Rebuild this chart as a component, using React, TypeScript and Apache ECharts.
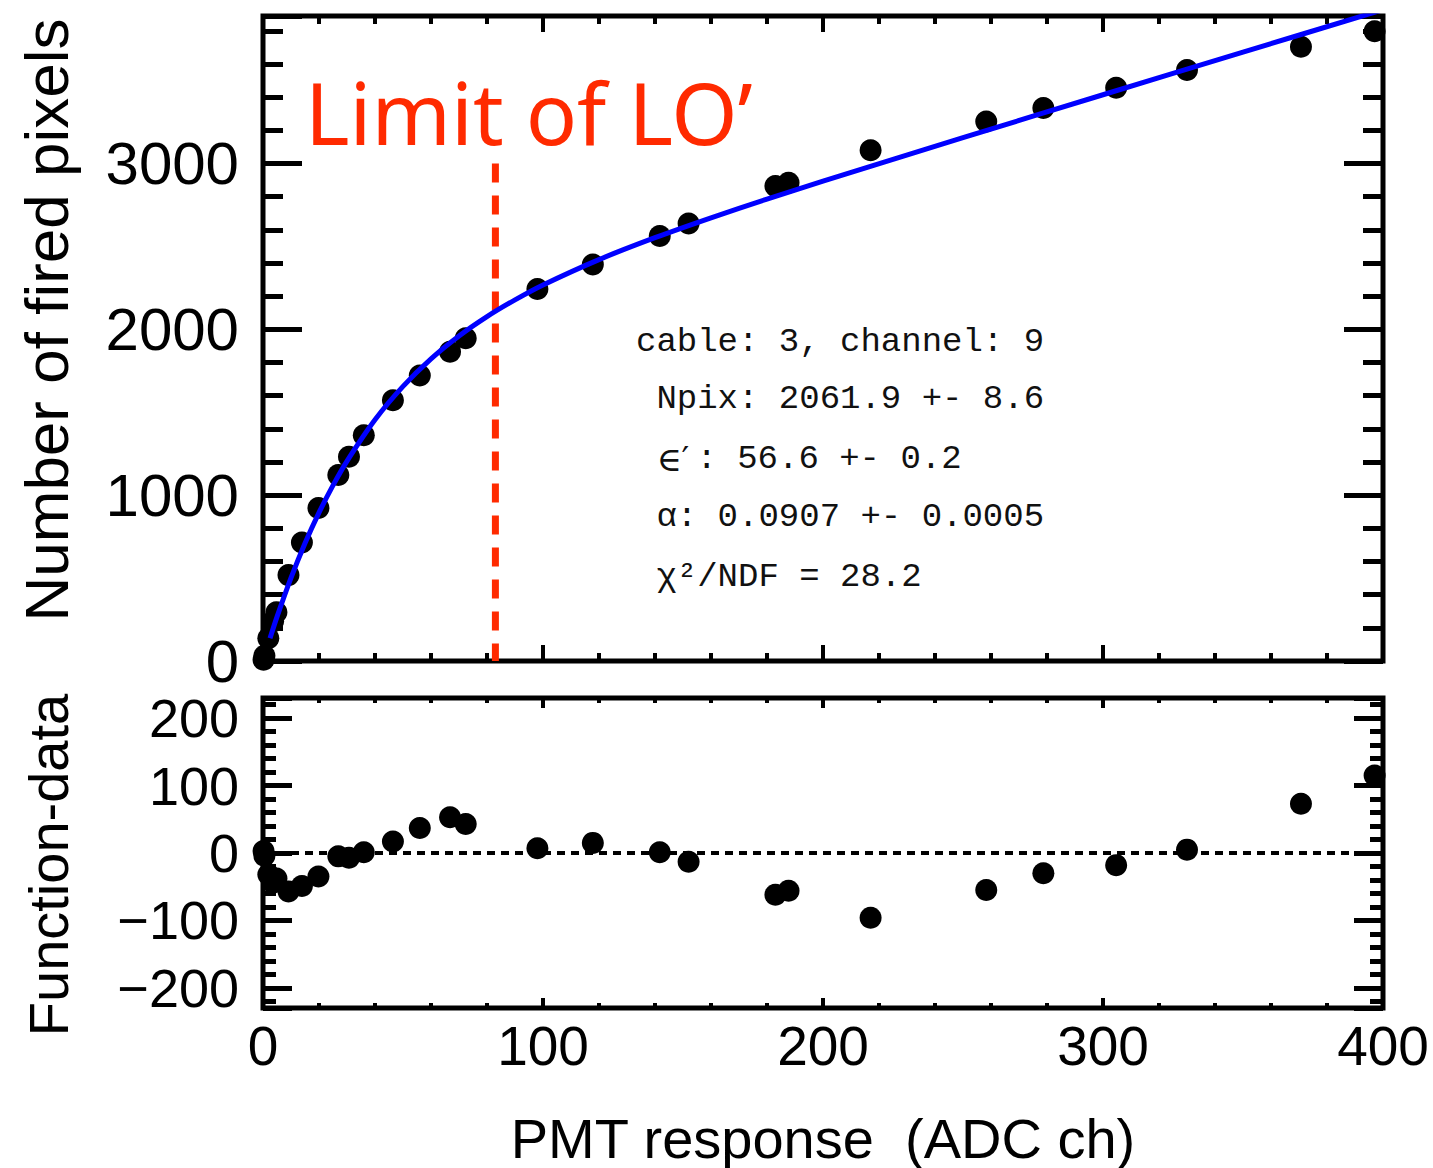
import React, { useEffect, useRef } from "react";
import * as echarts from "echarts";

// ---- data ----
const adc = [0.2, 0.5, 1.9, 3.6, 4.8, 9.1, 13.9, 19.8, 26.9, 30.7, 36, 46.4, 56, 66.8, 72.4, 98, 117.8, 141.7, 152, 183, 187.7, 217, 258.3, 278.7, 304.7, 330, 370.7, 397];
const firedPixels = [8, 32, 137, 239, 294, 518, 715, 923, 1122, 1232, 1361, 1572, 1722, 1865, 1947, 2244, 2391, 2563, 2639, 2864, 2884, 3080, 3254, 3335, 3457, 3564, 3705, 3798];
const residuals = [3, -4, -32, -44, -38, -57, -49, -35, -5, -7, 1, 17, 37, 53, 43, 7, 15, 1, -13, -62, -56, -96, -55, -30, -18, 5, 73, 115];

const fitX = [2.5, 5, 10, 15, 20, 25, 30, 40, 50, 60, 70, 80, 90, 100, 120, 140, 160, 180, 200, 250, 300, 350, 400];
const fitY = [137, 266, 501, 710, 895, 1059, 1206, 1455, 1656, 1822, 1960, 2077, 2178, 2268, 2421, 2553, 2673, 2786, 2894, 3156, 3415, 3672, 3928];

const limitX = [83, 83];
const limitY = [3000, 0];

const zeroX = [0, 400];
const zeroY = [0, 0];

const xTickLabels = [0, 100, 200, 300, 400];
const topYTickLabels = [0, 1000, 2000, 3000];
const botYTickLabels = [-200, -100, 0, 100, 200];

const FONT = '"Liberation Sans", Arial, Helvetica, sans-serif';
const MONO = '"Liberation Mono", "DejaVu Sans Mono", monospace';

function zip(a: number[], b: number[]) {
  return a.map((v, i) => [v, b[i]]);
}

function fmt(v: number) {
  return v < 0 ? "\u2212" + Math.abs(v) : String(v);
}

function labelCfg(values: number[], size: number, margin: number) {
  return {
    show: true,
    customValues: values,
    fontSize: size,
    fontFamily: FONT,
    color: "#000",
    margin,
    formatter: (v: number) => (values.indexOf(v) >= 0 ? fmt(v) : ""),
  };
}

function makeXAxis(gridIndex: number, position: string, major: number, minor: number, label: boolean) {
  return {
    type: "value",
    gridIndex,
    position,
    min: 0,
    max: 400,
    axisLine: { show: false, onZero: false },
    splitLine: { show: false },
    minorSplitLine: { show: false },
    axisTick: { show: true, inside: true, length: major, lineStyle: { color: "#000", width: 4 } },
    minorTick: { show: true, splitNumber: 5, length: minor, lineStyle: { color: "#000", width: 4 } },
    axisLabel: label ? labelCfg(xTickLabels, 55, 10) : { show: false },
  };
}

function makeYAxis(gridIndex: number, position: string, min: number, max: number, labels: number[], major: number, minor: number, labelSize: number) {
  return {
    type: "value",
    gridIndex,
    position,
    min,
    max,
    axisLine: { show: false, onZero: false },
    splitLine: { show: false },
    minorSplitLine: { show: false },
    axisTick: { show: true, inside: true, length: major, lineStyle: { color: "#000", width: 5 } },
    minorTick: { show: true, splitNumber: 5, length: minor, lineStyle: { color: "#000", width: 5 } },
    axisLabel: labelSize ? labelCfg(labels, labelSize, 24) : { show: false },
  };
}

export default function App() {
  const ref = useRef<HTMLDivElement>(null);

  useEffect(() => {
    if (!ref.current) return;
    const chart = echarts.init(ref.current, undefined, { renderer: "svg" });

    const option: any = {
      animation: false,
      backgroundColor: "#fff",
      grid: [
        { left: 263, right: 50, top: 16, height: 645, show: true, borderColor: "#000", borderWidth: 5, backgroundColor: "transparent" },
        { left: 263, right: 50, top: 698, height: 310, show: true, borderColor: "#000", borderWidth: 5, backgroundColor: "transparent" },
      ],
      xAxis: [
        makeXAxis(0, "bottom", 16, 8, false),
        makeXAxis(0, "top", 16, 8, false),
        makeXAxis(1, "bottom", 10, 5, true),
        makeXAxis(1, "top", 10, 5, false),
      ],
      yAxis: [
        makeYAxis(0, "left", 0, 3890, topYTickLabels, 39, 20, 60),
        makeYAxis(0, "right", 0, 3890, topYTickLabels, 39, 20, 0),
        makeYAxis(1, "left", -230, 230, botYTickLabels, 29, 13, 54),
        makeYAxis(1, "right", -230, 230, botYTickLabels, 29, 13, 0),
      ],
      series: [
        {
          name: "Limit of LO'",
          type: "line",
          xAxisIndex: 0,
          yAxisIndex: 0,
          data: zip(limitX, limitY),
          showSymbol: false,
          symbol: "none",
          lineStyle: { color: "#ff2a00", width: 7, type: [19, 13] },
          z: 2,
        },
        {
          name: "data",
          type: "scatter",
          xAxisIndex: 0,
          yAxisIndex: 0,
          data: zip(adc, firedPixels),
          symbol: "circle",
          symbolSize: 22,
          itemStyle: { color: "#000", opacity: 1 },
          z: 3,
        },
        {
          name: "fit",
          type: "line",
          xAxisIndex: 0,
          yAxisIndex: 0,
          data: zip(fitX, fitY),
          smooth: 0.3,
          symbol: "none",
          lineStyle: { color: "#0000ff", width: 5 },
          z: 4,
        },
        {
          name: "zero",
          type: "line",
          xAxisIndex: 2,
          yAxisIndex: 2,
          data: zip(zeroX, zeroY),
          symbol: "none",
          lineStyle: { color: "#000", width: 4, type: [8, 6] },
          z: 2,
        },
        {
          name: "residual",
          type: "scatter",
          xAxisIndex: 2,
          yAxisIndex: 2,
          data: zip(adc, residuals),
          symbol: "circle",
          symbolSize: 22,
          itemStyle: { color: "#000", opacity: 1 },
          z: 3,
        },
      ],
      graphic: [
        {
          type: "text",
          x: 305,
          y: 112,
          z: 10,
          style: { text: "Limit of LO\u2019", fontSize: 85, fontFamily: '"Noto Sans", sans-serif', fill: "#ff2a00", verticalAlign: "middle", align: "left" },
        },
        {
          type: "text",
          x: 636,
          y: 342,
          z: 10,
          style: { text: "cable: 3, channel: 9", fontSize: 34, fontFamily: MONO, fill: "#111", verticalAlign: "middle" },
        },
        {
          type: "text",
          x: 636,
          y: 399,
          z: 10,
          style: { text: " Npix: 2061.9 +- 8.6", fontSize: 34, fontFamily: MONO, fill: "#111", verticalAlign: "middle" },
        },
        {
          type: "text",
          x: 636,
          y: 459,
          z: 10,
          style: {
            text: " {s|\u2208\u2032}: 56.6 +- 0.2",
            fontSize: 34,
            fontFamily: MONO,
            fill: "#111",
            verticalAlign: "middle",
            rich: { s: { fontSize: 34, fontFamily: '"DejaVu Serif", serif', fill: "#111", width: 40 } },
          },
        },
        {
          type: "text",
          x: 636,
          y: 517,
          z: 10,
          style: { text: " \u03b1: 0.0907 +- 0.0005", fontSize: 34, fontFamily: MONO, fill: "#111", verticalAlign: "middle" },
        },
        {
          type: "text",
          x: 636,
          y: 577,
          z: 10,
          style: { text: " \u03c7\u00b2/NDF = 28.2", fontSize: 34, fontFamily: MONO, fill: "#111", verticalAlign: "middle" },
        },
        {
          type: "text",
          x: 46,
          y: 320,
          rotation: Math.PI / 2,
          style: { text: "Number of fired pixels", fontSize: 62, fontFamily: FONT, fill: "#000", align: "center", verticalAlign: "middle" },
        },
        {
          type: "text",
          x: 48,
          y: 865,
          rotation: Math.PI / 2,
          style: { text: "Function-data", fontSize: 56, fontFamily: FONT, fill: "#000", align: "center", verticalAlign: "middle" },
        },
        {
          type: "text",
          x: 823,
          y: 1138,
          style: { text: "PMT response\u00a0\u00a0(ADC ch)", fontSize: 56, fontFamily: FONT, fill: "#000", align: "center", verticalAlign: "middle" },
        },
      ],
    };

    chart.setOption(option);
    return () => chart.dispose();
  }, []);

  return <div ref={ref} style={{ position: "absolute", left: 0, top: 0, width: 1433, height: 1168 }} />;
}
